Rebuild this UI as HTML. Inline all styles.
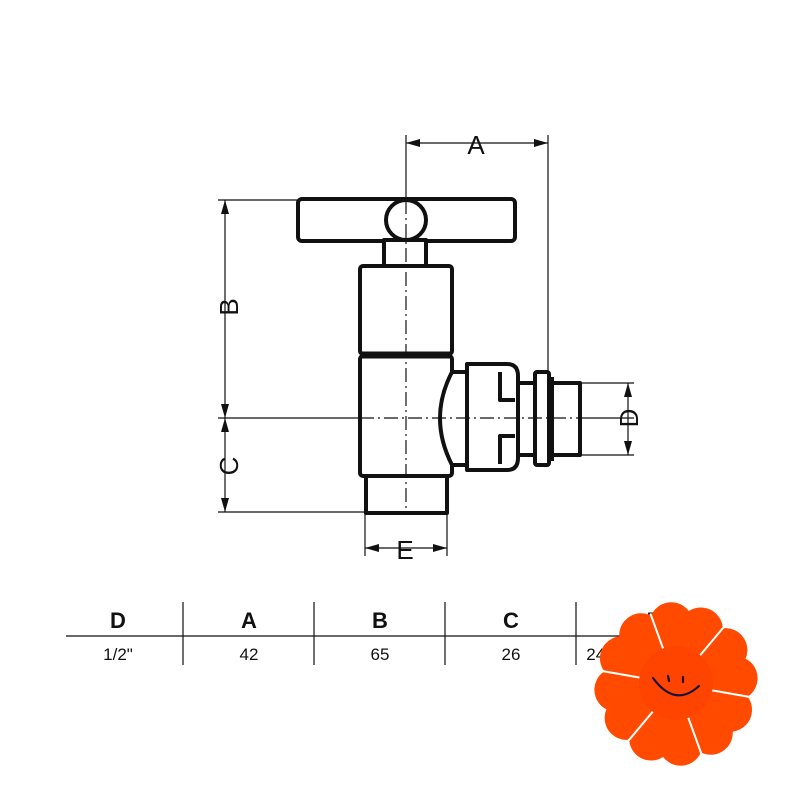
<!DOCTYPE html>
<html><head><style>body{margin:0;background:#fff}svg{display:block}</style></head><body>
<svg width="800" height="800" viewBox="0 0 800 800" xmlns="http://www.w3.org/2000/svg">
<g fill="none" stroke="#111" stroke-width="1.2">
<line x1="406" y1="135" x2="406" y2="200"/>
<line x1="548" y1="135" x2="548" y2="372"/>
<line x1="406" y1="143" x2="548" y2="143"/>
<line x1="218" y1="200" x2="297" y2="200"/>
<line x1="218" y1="418" x2="634" y2="418"/>
<line x1="218" y1="512" x2="365" y2="512"/>
<line x1="225" y1="200" x2="225" y2="512"/>
<line x1="580" y1="383" x2="634" y2="383"/>
<line x1="580" y1="455" x2="634" y2="455"/>
<line x1="628" y1="383" x2="628" y2="455"/>
<line x1="365" y1="513" x2="365" y2="556"/>
<line x1="447" y1="513" x2="447" y2="556"/>
<line x1="365" y1="548" x2="447" y2="548"/>
</g>
<g fill="#111">
<polygon points="406,143 420,139 420,147"/><polygon points="548,143 534,139 534,147"/>
<polygon points="225,200 221,214 229,214"/><polygon points="225,418 221,404 229,404"/>
<polygon points="225,418 221,432 229,432"/><polygon points="225,512 221,498 229,498"/>
<polygon points="628,383 624,397 632,397"/><polygon points="628,455 624,441 632,441"/>
<polygon points="365,548 379,544 379,552"/><polygon points="447,548 433,544 433,552"/>
</g>
<g font-family="Liberation Sans, sans-serif" font-size="26" fill="#111" text-anchor="middle">
<text x="476" y="154">A</text>
<text x="405" y="559">E</text>
<text transform="translate(238,307) rotate(-90)">B</text>
<text transform="translate(238,466) rotate(-90)">C</text>
<text transform="translate(638,418) rotate(-90)">D</text>
</g>
<g fill="#fff" stroke="#111" stroke-width="4" stroke-linejoin="round">
<rect x="298" y="199" width="217" height="42" rx="4"/>
<rect x="384" y="240" width="42" height="26"/>
<circle cx="406" cy="220" r="20"/>
<rect x="366" y="476" width="81" height="37"/>
<rect x="360" y="266" width="92" height="88" rx="3"/>
<rect x="360" y="356" width="92" height="120" rx="3"/>
<path d="M452 372 L467 372 L467 465 L452 465 Q428 418 452 372Z"/>
<path d="M467 364 L507 364 Q518 364 518 376 L518 458 Q518 470 507 470 L467 470Z"/>
<path d="M500 372 L500 400 L515 400 M500 464 L500 436 L515 436" fill="none"/>
<rect x="518" y="383" width="17" height="72"/>
<rect x="535" y="372" width="14" height="93" rx="2"/>
<rect x="551" y="383" width="29" height="72"/>
</g>
<line x1="360" y1="355" x2="452" y2="355" stroke="#111" stroke-width="7"/>
<line x1="551" y1="377" x2="551" y2="461" stroke="#111" stroke-width="6"/>
<g stroke="#111" stroke-width="1.2" stroke-dasharray="14,4,2,4">
<line x1="406" y1="200" x2="406" y2="513"/>
<line x1="360" y1="418" x2="580" y2="418"/>
</g>
<g stroke="#111" stroke-width="1.2">
<line x1="66" y1="636" x2="740" y2="636"/>
<line x1="183" y1="602" x2="183" y2="665"/>
<line x1="314" y1="602" x2="314" y2="665"/>
<line x1="445" y1="602" x2="445" y2="665"/>
<line x1="576" y1="602" x2="576" y2="665"/>
</g>
<g font-family="Liberation Sans, sans-serif" fill="#111" text-anchor="middle">
<g font-size="22" font-weight="bold">
<text x="118" y="628">D</text><text x="249" y="628">A</text><text x="380" y="628">B</text><text x="511" y="628">C</text><text x="654" y="628">E</text>
</g>
<g font-size="17">
<text x="118" y="660">1/2"</text><text x="249" y="660">42</text><text x="380" y="660">65</text><text x="511" y="660">26</text><text x="600" y="660">24x</text>
</g>
</g>
<!-- flower -->
<g transform="translate(676,684)">
<g fill="#ff4a00">
<g transform="rotate(-80)"><circle cx="58" cy="-15" r="22"/><circle cx="58" cy="15" r="22"/><path d="M0 0 L50 -33 L50 33Z"/></g>
<g transform="rotate(-20)"><circle cx="58" cy="-15" r="22"/><circle cx="58" cy="15" r="22"/><path d="M0 0 L50 -33 L50 33Z"/></g>
<g transform="rotate(40)"><circle cx="58" cy="-15" r="22"/><circle cx="58" cy="15" r="22"/><path d="M0 0 L50 -33 L50 33Z"/></g>
<g transform="rotate(100)"><circle cx="58" cy="-15" r="22"/><circle cx="58" cy="15" r="22"/><path d="M0 0 L50 -33 L50 33Z"/></g>
<g transform="rotate(160)"><circle cx="58" cy="-15" r="22"/><circle cx="58" cy="15" r="22"/><path d="M0 0 L50 -33 L50 33Z"/></g>
<g transform="rotate(220)"><circle cx="58" cy="-15" r="22"/><circle cx="58" cy="15" r="22"/><path d="M0 0 L50 -33 L50 33Z"/></g>
</g>
<g stroke="#fff" stroke-width="2">
<line x1="0" y1="0" x2="75" y2="0" transform="rotate(10)"/>
<line x1="0" y1="0" x2="75" y2="0" transform="rotate(70)"/>
<line x1="0" y1="0" x2="75" y2="0" transform="rotate(130)"/>
<line x1="0" y1="0" x2="75" y2="0" transform="rotate(190)"/>
<line x1="0" y1="0" x2="75" y2="0" transform="rotate(250)"/>
<line x1="0" y1="0" x2="75" y2="0" transform="rotate(310)"/>
</g>
<circle cx="0" cy="-1" r="37" fill="#ff4400"/>
</g>
<g stroke="#1a1040" stroke-width="2.2" fill="none" stroke-linecap="round">
<path d="M653 678 Q675 708 699 686"/>
<line x1="668" y1="676" x2="669" y2="681"/><line x1="683" y1="677" x2="683" y2="682"/>
</g>
</svg>
</body></html>
